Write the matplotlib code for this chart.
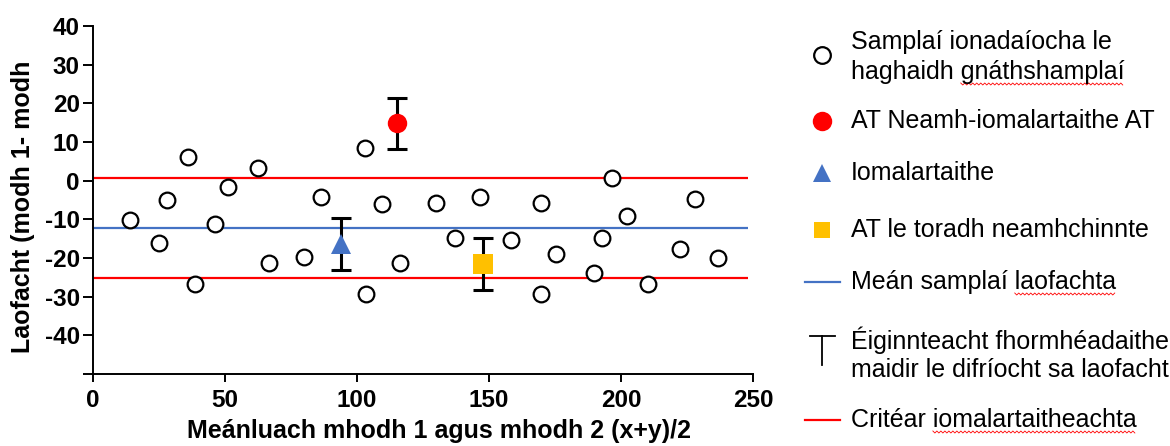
import matplotlib
matplotlib.use('Agg')
import matplotlib.pyplot as plt
import numpy as np

plt.rcParams['font.family'] = ['Liberation Sans', 'DejaVu Sans']

# open circles - representative samples
sample_x = [14.0, 25.0, 28.2, 36.1, 38.6, 46.1, 51.3, 62.6, 66.7, 80.0, 86.2, 103.0, 103.4, 109.3, 116.3,
            129.8, 137.1, 146.5, 158.2, 169.7, 169.7, 175.4, 189.7, 192.7, 196.7, 202.4, 210.1, 222.3, 228.0, 236.9]
sample_y = [-10.1, -16.1, -4.9, 6.0, -26.6, -11.2, -1.7, 3.4, -21.3, -19.7, -4.1, 8.4, -29.2, -6.1, -21.3,
            -5.8, -14.9, -4.3, -15.4, -5.8, -29.2, -18.9, -23.9, -14.9, 0.7, -9.2, -26.7, -17.7, -4.7, -20.0]

# special points: x, y, error
noncomm_x, noncomm_y, noncomm_err = 115.3, 14.8, 6.6
comm_x, comm_y, comm_err = 94.0, -16.3, 6.7
incon_x, incon_y, incon_err = 147.8, -21.6, 6.7

mean_bias = -12.3
criteria = [0.8, -25.2]
line_end = 248

x_ticks = [0, 50, 100, 150, 200, 250]
y_ticks = [-50, -40, -30, -20, -10, 0, 10, 20, 30, 40]
y_tick_labels = ['', '-40', '-30', '-20', '-10', '0', '10', '20', '30', '40']

legend_lines = [
  ['Samplaí ionadaíocha le', 'haghaidh gnáthshamplaí'],
  ['AT Neamh-iomalartaithe AT'],
  ['Iomalartaithe'],
  ['AT le toradh neamhchinnte'],
  ['Meán samplaí laofachta'],
  ['Éiginnteacht fhormhéadaithe', 'maidir le difríocht sa laofacht'],
  ['Critéar iomalartaitheachta'],
]
squiggle_words = {(0, 1): 'gnáthshamplaí', (4, 0): 'laofachta', (6, 0): 'iomalartaitheachta'}

RED = '#FF0000'
BLUE = '#4472C4'
YELLOW = '#FFC000'

fig = plt.figure(figsize=(11.7, 4.46), dpi=100)
ax = fig.add_axes([93 / 1170, 72 / 446, 660 / 1170, 348 / 446])

ax.hlines(criteria, 0, line_end, colors=RED, lw=1.6, zorder=2)
ax.hlines(mean_bias, 0, line_end, colors=BLUE, lw=1.6, zorder=2)

ax.plot(sample_x, sample_y, 'o', ms=11.3, mfc='white', mec='black', mew=1.6, zorder=4, clip_on=False)

eb = dict(fmt='none', ecolor='black', elinewidth=2.2, capsize=7.5, capthick=2.2, zorder=3)
ax.errorbar(noncomm_x, noncomm_y, yerr=noncomm_err, **eb)
ax.errorbar(comm_x, comm_y, yerr=comm_err, **eb)
ax.errorbar(incon_x, incon_y, yerr=incon_err, **eb)
ax.plot(noncomm_x, noncomm_y, 'o', ms=14, color=RED, mew=0, zorder=5)
ax.plot(comm_x, comm_y, '^', ms=14, color=BLUE, mew=0, zorder=5)
ax.plot(incon_x, incon_y, 's', ms=14, color=YELLOW, mew=0, zorder=5)

ax.set_xlim(0, 250)
ax.set_ylim(-50, 40)
ax.set_xticks(x_ticks)
ax.set_yticks(y_ticks)
ax.set_yticklabels(y_tick_labels)
for s in ['top', 'right']:
  ax.spines[s].set_visible(False)
for s in ['left', 'bottom']:
  ax.spines[s].set_linewidth(1.4)
ax.tick_params(width=1.4, labelsize=17.5)
for lab in ax.get_xticklabels() + ax.get_yticklabels():
  lab.set_fontweight('bold')
ax.tick_params(axis='x', length=5.5, pad=5)
ax.tick_params(axis='y', length=7, pad=2.5)

ax.set_xlabel('Meánluach mhodh 1 agus mhodh 2 (x+y)/2', fontsize=18, fontweight='bold')
ax.set_ylabel('Laofacht (modh 1- modh', fontsize=18, fontweight='bold')
ax.xaxis.set_label_coords(0.524, -0.128)
ax.yaxis.set_label_coords(-0.088, 0.48)

# legend drawn by hand in pixel coordinates
lg = fig.add_axes([0, 0, 1, 1], facecolor='none')
lg.set_xlim(0, 1170)
lg.set_ylim(446, 0)
lg.axis('off')

mx, tx = 822, 851
line_y = [[42, 72], [121], [173], [230], [282], [340, 370], [420]]
lg.plot(mx, 55, 'o', ms=12, mfc='white', mec='black', mew=1.6)
lg.plot(mx, 121, 'o', ms=14, color=RED, mew=0)
lg.plot(mx, 173, '^', ms=12.5, color=BLUE, mew=0)
lg.plot(mx, 230, 's', ms=11, color=YELLOW, mew=0)
lg.plot([805, 840], [282, 282], color=BLUE, lw=1.6)
lg.plot([810, 835], [336, 336], color='black', lw=1.3)
lg.plot([822, 822], [336, 365], color='black', lw=1.3)
lg.plot([805, 840], [420, 420], color=RED, lw=1.6)

texts = {}
for i, lines in enumerate(legend_lines):
  for j, line in enumerate(lines):
    texts[(i, j)] = lg.text(tx, line_y[i][j], line, fontsize=18, va='center', ha='left')

# red spell-check squiggles under some words
fig.canvas.draw()
r = fig.canvas.get_renderer()
inv = lg.transData.inverted()
for key, word in squiggle_words.items():
  t = texts[key]
  bb = t.get_window_extent(r)
  tmp = lg.text(0, 0, word, fontsize=18)
  wb = tmp.get_window_extent(r)
  tmp.remove()
  x1 = inv.transform((bb.x1, 0))[0]
  x0 = x1 - wb.width
  y = line_y[key[0]][key[1]] + 12
  xs = np.arange(x0, x1, 2.0)
  ys = y + np.where(np.arange(len(xs)) % 2 == 0, -1.0, 1.0)
  lg.plot(xs, ys, color=RED, lw=0.6)

fig.savefig('out.png', dpi=100)
